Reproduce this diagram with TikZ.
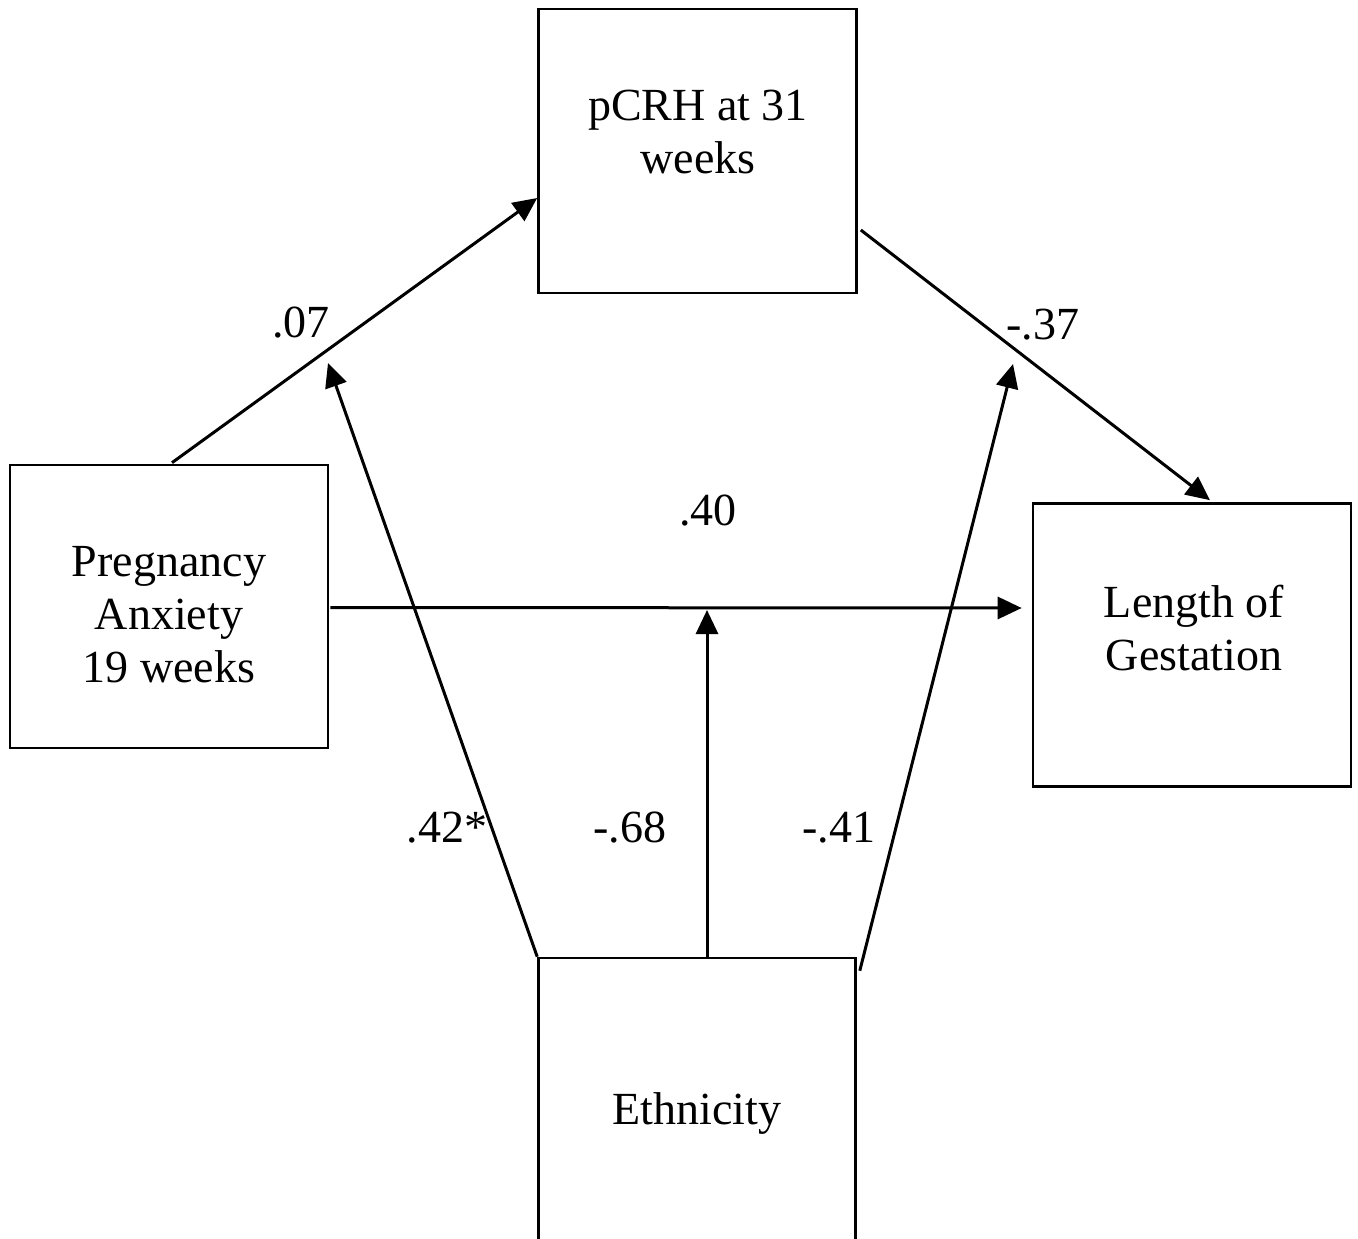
\documentclass[tikz,border=0pt]{standalone}
\usepackage{fontspec}
\setmainfont{Liberation Serif}
\usetikzlibrary{arrows.meta}
\begin{document}
\begin{tikzpicture}[x=1pt,y=-1pt,
  box/.style={draw, line width=2.6pt, inner sep=0pt, minimum width=318pt},
  lbl/.style={font=\fontsize{46}{53}\selectfont, inner sep=0pt, align=center},
  num/.style={font=\fontsize{46}{53}\selectfont, inner sep=0pt, anchor=base},
  arr/.style={line width=3pt, -{Triangle[length=24pt,width=22pt]}},
  ln/.style={line width=3pt}]
\useasboundingbox (0,0) rectangle (1358,1239);
\clip (0,0) rectangle (1358,1239);
% boxes
\node[box, minimum height=284pt] (pcrh) at (697.5,151) {};
\node[box, minimum height=283pt] (pa) at (169,606.5) {};
\node[box, minimum height=283pt] (lg) at (1192,645) {};
\node[box, minimum height=310pt, minimum width=317pt, lbl] (eth) at (697,1113) {Ethnicity};
% box texts
\node[lbl] (pcrhT) at (698,132) {pCRH at 31\\weeks};
\node[lbl] (paT) at (169,615) {Pregnancy\\Anxiety\\19 weeks};
\node[lbl] (lgT) at (1194,628) {Length of\\Gestation};
% free ends
\coordinate (m1) at (328,363);
\coordinate (m2) at (1013,364);
\coordinate (m3) at (707,610);
% connectors
\draw[arr] ([xshift=3pt,yshift=1pt]pa.north) -- ([yshift=-47pt]pcrh.west);
\draw[arr] ([xshift=3pt,yshift=-79pt]pcrh.east) -- ([xshift=18pt,yshift=2pt]lg.north);
\draw[arr] ([xshift=1pt,yshift=-1pt]pa.east) -- ([xshift=-10pt,yshift=37pt]lg.west);
\draw[arr] ([xshift=10pt]eth.north) -- (m3);
\draw[arr] (eth.north west) -- (m1);
\draw[arr] ([xshift=3pt,yshift=-14pt]eth.north east) -- (m2);
% labels
\node[num] (l07) at (301,337) {.07};
\node[num] (l37) at (1043,339) {-.37};
\node[num] (l40) at (708,525) {.40};
\node[num] (l42) at (447,842) {.42*};
\node[num] (l68) at (630,842) {-.68};
\node[num] (l41) at (839,842) {-.41};
\end{tikzpicture}
\end{document}
